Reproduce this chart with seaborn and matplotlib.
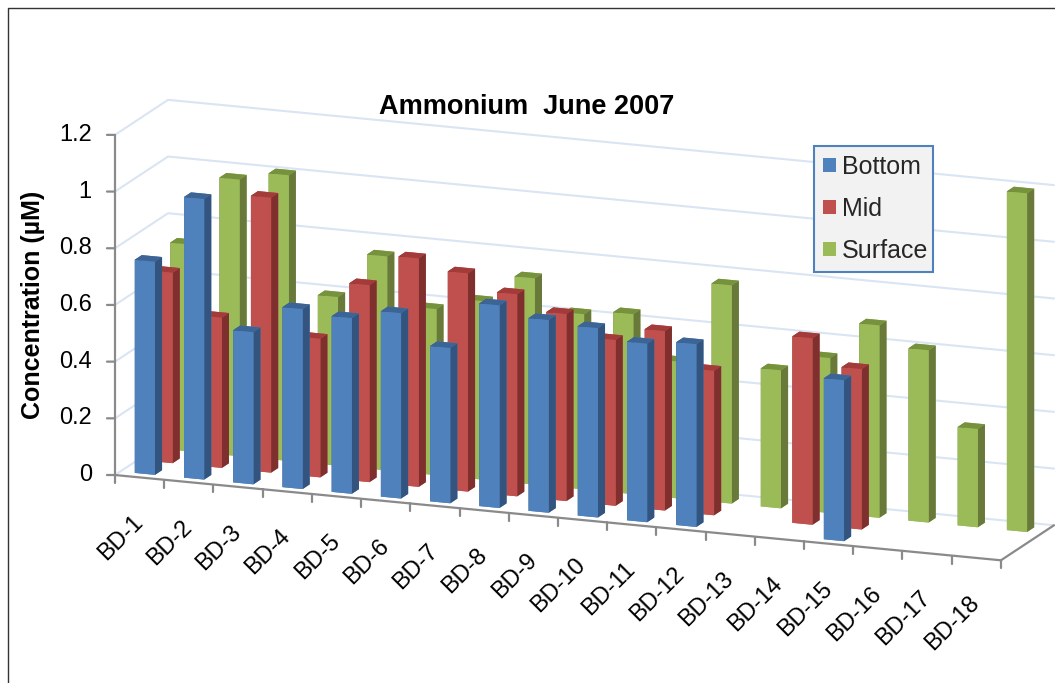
import matplotlib
matplotlib.use("Agg")
import matplotlib.pyplot as plt
from matplotlib.lines import Line2D
from matplotlib.patches import Patch
from mpl_toolkits.mplot3d import proj3d
import numpy as np
import seaborn as sns

sites = ["BD-%d" % i for i in range(1, 19)]
nan = float("nan")
bottom = [.752, .99, .537, .635, .62, .654, .548, .715, .68, .668, .63, .645, nan, nan, .568, nan, nan, nan]
mid = [.672, .53, .97, .489, .695, .806, .77, .713, .66, .585, .633, .51, nan, .658, .566, nan, nan, nan]
surface = [.73, .976, 1.008, .595, .755, .586, .63, .728, .618, .635, .483, .77, .487, .547, .679, .608, .347, 1.195]
z_ticks = [0, 0.2, 0.4, 0.6, 0.8, 1, 1.2]
z_labels = ["0", "0.2", "0.4", "0.6", "0.8", "1", "1.2"]
series_names = ["Bottom", "Mid", "Surface"]

sns.set_theme(style="white")
plt.rcParams["font.family"] = ["Liberation Sans", "DejaVu Sans"]

front = sns.color_palette(["#4F81BD", "#C0504D", "#9BBB59"])
side = sns.color_palette(["#33547F", "#7F302E", "#68793A"])
top = sns.color_palette(["#3C6494", "#A23B39", "#76923C"])
grid_col = "#DAE5F3"
axis_col = "#8A8A8A"

fig = plt.figure(figsize=(10.55, 6.83), dpi=100)
ax = fig.add_subplot(projection="3d", proj_type="ortho", computed_zorder=False)
ax.set_position([-0.1852, -0.2294, 1.453, 1.453])
ax.set_axis_off()
ax.view_init(elev=14.6, azim=-69.1)
ax.set_box_aspect((947, 148.6, 351))
ax.set_xlim(0, 18)
ax.set_ylim(0, 3)
ax.set_zlim(0, 1.2)
# axes are off, the ticks are drawn by hand below
ax.set_xticks([])
ax.set_yticks([])
ax.set_zticks([])


def label_at(x, y, z, text, **kwargs):
    # project first so the label can be a normal 2D text with a fixed rotation
    px, py, _ = proj3d.proj_transform(x, y, z, ax.get_proj())
    ax.text2D(px, py, text, transform=ax.transData, color="black", fontsize=17,
              clip_on=False, **kwargs)


# walls
for z in z_ticks:
    ax.plot([0, 0, 18], [0, 3, 3], [z, z, z], color=grid_col, lw=1.5, zorder=1)

# bars, back row first
bar_w = 0.41
bar_d = 0.4
zo = 2
for row in [2, 1, 0]:
    values = [bottom, mid, surface][row]
    colors = [front[row], top[row], front[row], front[row], side[row], side[row]]
    for i, v in enumerate(values):
        if np.isnan(v):
            continue
        ax.bar3d(i + (1 - bar_w) / 2, row + (1 - bar_d) / 2, 0, bar_w, bar_d, v,
                 color=colors, shade=False, edgecolor="none", zorder=zo)
        zo += 1

# axis lines and ticks
ax.plot([0, 18], [0, 0], [0, 0], color=axis_col, lw=1.6, zorder=zo)
ax.plot([18, 18], [0, 3], [0, 0], color=axis_col, lw=1.6, zorder=zo)
ax.plot([0, 0], [0, 0], [0, 1.2], color=axis_col, lw=1.6, zorder=zo)
for z, lab in zip(z_ticks, z_labels):
    ax.plot([-0.142, 0], [-0.057, 0], [z, z], color=axis_col, lw=1.6, zorder=zo)
    label_at(-0.41, -0.165, z, lab, ha="right", va="center")
for k in range(19):
    ax.plot([k, k], [0, 0], [0, -0.028], color=axis_col, lw=1.6, zorder=zo)
for k, lab in enumerate(sites):
    label_at(k + 0.34, 0, -0.122, lab, rotation=45, ha="right", va="top", rotation_mode="anchor")

fig.text(527 / 1055, 1 - 107 / 683, "Ammonium  June 2007", ha="center", va="center",
         fontsize=19.5, fontweight="bold", color="black")
fig.text(33 / 1055, 1 - 305 / 683, "Concentration (µM)", rotation=90, ha="center", va="center",
         fontsize=18, fontweight="bold", color="black")

handles = [Patch(facecolor=c, edgecolor="none") for c in front]
leg = fig.legend(handles, series_names, loc="upper left", mode="expand",
                 bbox_to_anchor=(814 / 1055, 1 - 273 / 683, 119 / 1055, 127 / 683), fontsize=18,
                 frameon=True, fancybox=False, framealpha=1, facecolor="#F2F2F2",
                 edgecolor="#4F81BD", handlelength=0.52, handleheight=0.52,
                 handletextpad=0.25, labelspacing=0.72, borderpad=0.36, borderaxespad=0)
leg.get_frame().set_linewidth(1.5)

# outer frame of the picture
fig.add_artist(Line2D([8 / 1055, 8 / 1055, 1], [0, 1 - 8 / 683, 1 - 8 / 683], color="#333333", lw=1))

fig.savefig("out.png", dpi=100)
